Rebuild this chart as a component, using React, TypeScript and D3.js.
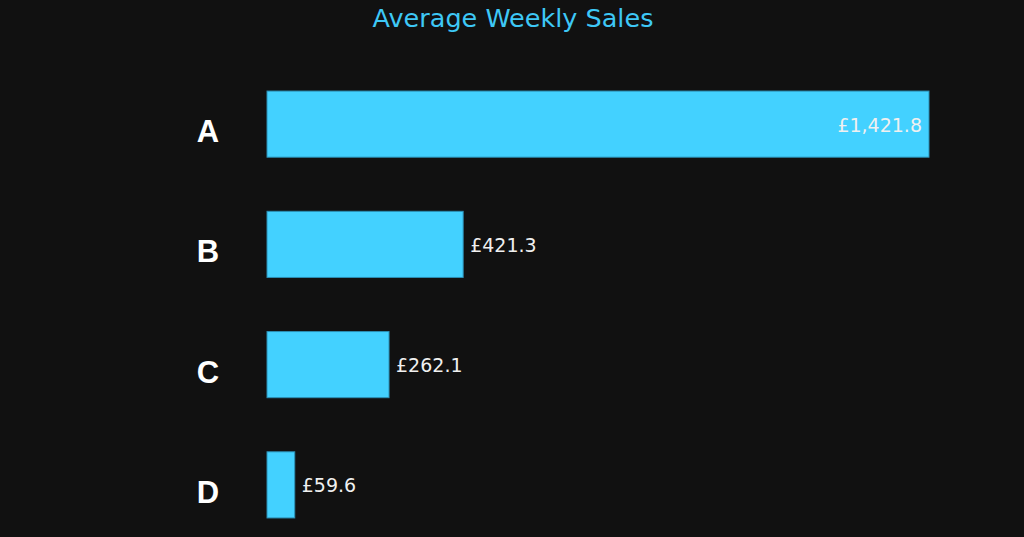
import React, { useEffect, useRef } from 'react';
import * as d3 from 'd3';

const categories = ['A', 'B', 'C', 'D'];
const salesValues = [1421.8, 421.3, 262.1, 59.6];
const chartTitle = 'Average Weekly Sales';

const W = 1024;
const H = 537;

const App: React.FC = () => {
    const ref = useRef<HTMLDivElement>(null);

    useEffect(() => {
        if (!ref.current) return;
        document.body.style.margin = '0';
        document.body.style.background = '#111111';

        const data = categories.map((c, i) => ({ cat: c, value: salesValues[i] }));
        const margin = { left: 267, right: 95 };

        const svg = d3.select(ref.current)
            .append('svg')
            .attr('width', W)
            .attr('height', H)
            .style('display', 'block')
            .style('background', '#111111');

        const x = d3.scaleLinear()
            .domain([0, d3.max(salesValues) || 1])
            .range([margin.left, W - margin.right]);

        const y = d3.scaleBand()
            .domain(categories)
            .range([64, 545])
            .paddingInner(0.45)
            .paddingOuter(0.225);

        svg.append('text')
            .attr('x', 513)
            .attr('y', 27)
            .attr('text-anchor', 'middle')
            .style('font-family', '"DejaVu Sans", sans-serif')
            .style('font-size', '25.5px')
            .style('fill', '#3ec8f6')
            .text(chartTitle);

        svg.append('g')
            .selectAll('rect')
            .data(data)
            .enter()
            .append('rect')
                .attr('x', x(0))
                .attr('y', (d) => y(d.cat) as number)
                .attr('width', (d) => x(d.value) - x(0))
                .attr('height', y.bandwidth())
                .style('fill', '#43d1ff')
                .style('stroke', '#2b8fb5')
                .style('stroke-width', 1);

        // category labels on the left
        svg.append('g')
            .selectAll('text')
            .data(data)
            .enter()
            .append('text')
                .attr('x', 208)
                .attr('y', (d) => (y(d.cat) as number) + y.bandwidth() / 2 + 18)
                .attr('text-anchor', 'middle')
                .style('font-family', '"Liberation Sans", Arial, sans-serif')
                .style('font-weight', 'bold')
                .style('font-size', '31px')
                .style('fill', '#ffffff')
                .text((d) => d.cat);

        const fmt = (v: number) => '£' + d3.format(',.1f')(v);

        const labels = svg.append('g')
            .selectAll('text')
            .data(data)
            .enter()
            .append('text')
                .attr('y', (d) => (y(d.cat) as number) + y.bandwidth() / 2 + 7.5)
                .style('font-family', '"DejaVu Sans", sans-serif')
                .style('font-size', '19px')
                .style('fill', '#f0f0f0')
                .text((d) => fmt(d.value));

        // labels go inside the bar when they would run past the chart
        labels.each(function (d) {
            const t = d3.select(this);
            const w = (this as SVGTextElement).getComputedTextLength();
            const end = x(d.value);
            if (end + 7 + w > W - margin.right) {
                t.attr('x', end - 7).attr('text-anchor', 'end');
            } else {
                t.attr('x', end + 7).attr('text-anchor', 'start');
            }
        });

        return () => {
            svg.remove();
        };
    }, []);

    return <div ref={ref}></div>;
};

export default App;
